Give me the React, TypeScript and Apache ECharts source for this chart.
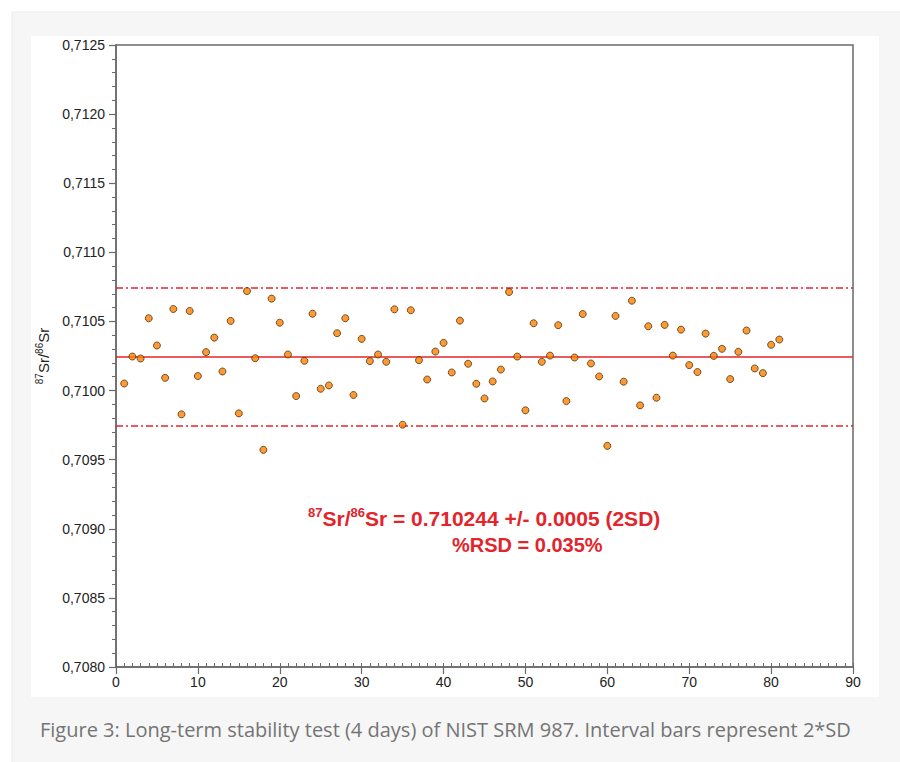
import React, { useEffect, useRef } from "react";
import * as echarts from "echarts";

const srRatios: number[] = [
  0.710051, 0.710246, 0.710232, 0.710523, 0.710326, 0.710092, 0.71059, 0.709828, 0.710576, 0.710105,
  0.710278, 0.710383, 0.710138, 0.710504, 0.709835, 0.71072, 0.710234, 0.709571, 0.710665, 0.710491,
  0.710261, 0.70996, 0.710215, 0.710556, 0.710013, 0.710037, 0.710415, 0.710523, 0.709968, 0.710374,
  0.710213, 0.710261, 0.710208, 0.710588, 0.709753, 0.710581, 0.71022, 0.71008, 0.710282, 0.710345,
  0.710131, 0.710506, 0.710194, 0.710049, 0.709943, 0.710066, 0.710152, 0.710713, 0.710246, 0.709857,
  0.710487, 0.710208, 0.710253, 0.710473, 0.709924, 0.710239, 0.710554, 0.710196, 0.710102, 0.7096,
  0.71054, 0.710064, 0.71065, 0.709893, 0.710465, 0.709948, 0.710475, 0.710253, 0.710441, 0.710184,
  0.710134, 0.710412, 0.710251, 0.710302, 0.710083, 0.71028, 0.710434, 0.71016, 0.710126, 0.710331,
  0.710369,
];
const meanValue = 0.710244;
const twoSD = 0.0005;
const annotationLine1Value = "0.710244 +/- 0.0005 (2SD)";
const annotationLine2 = "%RSD = 0.035%";
const caption =
  "Figure 3: Long-term stability test (4 days) of NIST SRM 987. Interval bars represent 2*SD";

const RED = "#e3242b";
const AXIS = "#6a6a6a";

export default function App() {
  const ref = useRef<HTMLDivElement>(null);
  useEffect(() => {
    if (!ref.current) return;
    const chart = echarts.init(ref.current, null, { renderer: "svg" });
    const points = srRatios.map((v, i) => [i + 1, v]);
    chart.setOption({
      animation: false,
      backgroundColor: "#ffffff",
      grid: {
        left: 116,
        top: 45,
        right: 47,
        bottom: 95,
        show: true,
        borderColor: AXIS,
        borderWidth: 1.5,
        backgroundColor: "transparent",
        containLabel: false,
      },
      graphic: [
        {
          type: "rect",
          z: -10,
          silent: true,
          shape: { x: 12, y: 12, width: 900, height: 760 },
          style: { fill: "#f6f6f6", stroke: "#ebebeb", lineWidth: 1 },
        },
        {
          type: "rect",
          z: -9,
          silent: true,
          shape: { x: 31, y: 36, width: 848, height: 661 },
          style: { fill: "#ffffff" },
        },
        {
          type: "text",
          z: 10,
          x: 308,
          y: 518,
          style: {
            text: "{sup|87}{b|Sr/}{sup|86}{b|Sr = " + annotationLine1Value + "}",
            verticalAlign: "middle",
            align: "left",
            rich: {
              b: {
                fontFamily: "Liberation Sans, Arial, sans-serif",
                fontWeight: "bold",
                fontSize: 21,
                fill: RED,
                lineHeight: 24,
              },
              sup: {
                fontFamily: "Liberation Sans, Arial, sans-serif",
                fontWeight: "bold",
                fontSize: 13,
                fill: RED,
                lineHeight: 14,
                verticalAlign: "top",
              },
            },
          },
        },
        {
          type: "text",
          z: 10,
          x: 452,
          y: 545,
          style: {
            text: annotationLine2,
            verticalAlign: "middle",
            align: "left",
            fontFamily: "Liberation Sans, Arial, sans-serif",
            fontWeight: "bold",
            fontSize: 20,
            fill: RED,
          },
        },
        {
          type: "text",
          z: 10,
          x: 40,
          y: 729,
          style: {
            text: caption,
            verticalAlign: "middle",
            align: "left",
            fontFamily: "Open Sans, sans-serif",
            fontSize: 20,
            fill: "#747474",
          },
        },
      ],
      xAxis: [
        {
          type: "value",
          min: 0,
          max: 90,
          interval: 10,
          position: "bottom",
          axisLine: { show: true, onZero: false, lineStyle: { color: AXIS, width: 1.5 } },
          axisTick: { show: true, inside: false, length: 7, lineStyle: { color: AXIS, width: 1.2 } },
          axisLabel: {
            margin: 8,
            color: "#222",
            fontFamily: "Liberation Sans, Arial, sans-serif",
            fontSize: 14,
          },
          splitLine: { show: false },
        },
        {
          type: "value",
          min: 0,
          max: 90,
          interval: 1,
          position: "bottom",
          axisLine: { show: false },
          axisTick: { show: true, inside: true, length: 4, lineStyle: { color: AXIS, width: 1 } },
          axisLabel: { show: false },
          splitLine: { show: false },
        },
      ],
      yAxis: {
        type: "value",
        min: 0.708,
        max: 0.7125,
        interval: 0.0005,
        axisLine: { show: true, onZero: false, lineStyle: { color: AXIS, width: 1.5 } },
        axisTick: { show: true, inside: false, length: 7, lineStyle: { color: AXIS, width: 1.2 } },
        minorTick: { show: true, splitNumber: 5, length: 4, lineStyle: { color: AXIS, width: 1 } },
        axisLabel: {
          margin: 11,
          color: "#222",
          fontFamily: "Liberation Sans, Arial, sans-serif",
          fontSize: 14,
          formatter: (v: number) => v.toFixed(4).replace(".", ","),
        },
        splitLine: { show: false },
        name: "{sup|87}{n|Sr/}{sup|86}{n|Sr}",
        nameLocation: "middle",
        nameRotate: 90,
        nameGap: 62,
        nameTextStyle: {
          rich: {
            n: {
              fontFamily: "Liberation Sans, Arial, sans-serif",
              fontSize: 15,
              color: "#222",
              lineHeight: 18,
            },
            sup: {
              fontFamily: "Liberation Sans, Arial, sans-serif",
              fontSize: 10,
              color: "#222",
              lineHeight: 10,
              verticalAlign: "top",
            },
          },
        },
      },
      series: [
        {
          type: "scatter",
          xAxisIndex: 0,
          data: points,
          symbol: "circle",
          symbolSize: 7,
          itemStyle: { color: "#ff8000", borderColor: "#3a2400", borderWidth: 0.9 },
          z: 5,
          markLine: {
            silent: true,
            symbol: "none",
            precision: 10,
            label: { show: false },
            z: 3,
            data: [
              { yAxis: meanValue, lineStyle: { color: RED, width: 1.6, type: "solid" } },
              { yAxis: meanValue + twoSD, lineStyle: { color: RED, width: 1.6, type: [7, 3, 2, 3] } },
              { yAxis: meanValue - twoSD, lineStyle: { color: RED, width: 1.6, type: [7, 3, 2, 3] } },
            ],
          },
        },
      ],
    });
    return () => chart.dispose();
  }, []);
  return (
    <div style={{ position: "fixed", left: 0, top: 0, width: 900, height: 762, background: "#fff" }}>
      <div ref={ref} style={{ width: 900, height: 762 }} />
    </div>
  );
}
